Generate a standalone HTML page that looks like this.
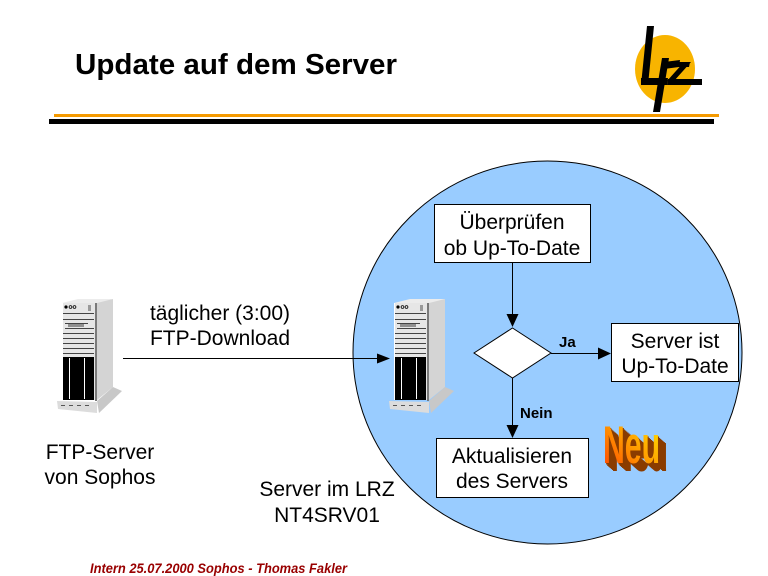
<!DOCTYPE html>
<html>
<head>
<meta charset="utf-8">
<style>
  html, body { margin: 0; padding: 0; background: #ffffff; }
  body { width: 768px; height: 576px; overflow: hidden; }
  svg { display: block; }
  .t { font-family: "Liberation Sans", Arial, sans-serif; font-size: 21px; fill: #000; }
</style>
</head>
<body>
<svg width="768" height="576" viewBox="0 0 768 576" xmlns="http://www.w3.org/2000/svg">
  <defs>
    <linearGradient id="neuGrad" x1="0" y1="1" x2="1" y2="0">
      <stop offset="0" stop-color="#ff3a00"/>
      <stop offset="0.5" stop-color="#ff9a00"/>
      <stop offset="1" stop-color="#ffee00"/>
    </linearGradient>
    <g id="server">
      <polygon points="429,302 445,299 445,387 429,400" fill="#d4d4d4"/>
      <polygon points="394,303 429,303 445,299 410,299" fill="#ececec"/>
      <rect x="394" y="303" width="33" height="97" fill="#e6e6e6"/>
      <line x1="394.5" y1="303" x2="394.5" y2="400" stroke="#ffffff" stroke-width="1"/>
      <rect x="427" y="303" width="2" height="98" fill="#7a7a7a"/>
      <circle cx="398" cy="307" r="1.6" fill="#000"/>
      <circle cx="402.5" cy="307" r="1.4" fill="none" stroke="#000" stroke-width="0.8"/>
      <circle cx="406.5" cy="307" r="1.4" fill="none" stroke="#000" stroke-width="0.8"/>
      <rect x="420" y="305" width="3" height="6" fill="#9a9a9a"/>
      <g stroke="#444" stroke-width="1">
        <line x1="395" y1="313.5" x2="426" y2="313.5"/>
        <line x1="395" y1="319.5" x2="426" y2="319.5"/>
        <line x1="397" y1="323.5" x2="420" y2="323.5"/>
        <line x1="397" y1="328.5" x2="426" y2="328.5"/>
        <line x1="395" y1="333.5" x2="426" y2="333.5"/>
        <line x1="395" y1="338.5" x2="426" y2="338.5"/>
        <line x1="395" y1="343.5" x2="426" y2="343.5"/>
        <line x1="395" y1="348.5" x2="426" y2="348.5"/>
        <line x1="395" y1="353.5" x2="426" y2="353.5"/>
      </g>
      <rect x="400" y="324" width="16" height="3" fill="#909090"/>
      <rect x="395" y="357" width="31" height="43" fill="#000"/>
      <rect x="401" y="358" width="1" height="41" fill="#ffffff"/>
      <rect x="416" y="358" width="1" height="41" fill="#ffffff"/>
      <polygon points="389,401 429,402 429,413 390,409" fill="#dcdcdc"/>
      <polygon points="429,401 445,387 454,391 431,413" fill="#c8c8c8"/>
      <g stroke="#555" stroke-width="1">
        <line x1="393" y1="405.5" x2="397" y2="405.5"/>
        <line x1="401" y1="405.5" x2="405" y2="405.5"/>
        <line x1="409" y1="405.5" x2="413" y2="405.5"/>
        <line x1="417" y1="405.5" x2="421" y2="405.5"/>
      </g>
    </g>
  </defs>

  <!-- Title -->
  <text x="75" y="74" font-family="Liberation Sans, Arial, sans-serif" font-weight="bold" font-size="28.5" fill="#000" textLength="322" lengthAdjust="spacingAndGlyphs">Update auf dem Server</text>

  <!-- Header lines -->
  <rect x="54" y="114" width="665" height="3" fill="#f59a00"/>
  <rect x="49" y="119" width="665" height="5" fill="#000"/>

  <!-- Logo -->
  <ellipse cx="665" cy="69" rx="30" ry="34" fill="#f8b400"/>
  <g fill="#000">
    <polygon points="647,26 654,26 648,85 641,85"/>
    <polygon points="641,78 668,78 667,85 641,85"/>
    <polygon points="662,58 669,58 660,112 653,112"/>
    <polygon points="664,62 680,60 679,67 664,69"/>
    <polygon points="675,62 690,62 689,67 675,67"/>
    <polygon points="684,62 691,62 674,81 667,81"/>
    <polygon points="668,79 702,79 702,85 667,85"/>
  </g>

  <!-- Big circle -->
  <ellipse cx="547.5" cy="352.5" rx="194.5" ry="191.5" fill="#99ccff" stroke="#000" stroke-width="1"/>

  <!-- Servers -->
  <use href="#server"/>
  <use href="#server" transform="translate(-332,0)"/>

  <!-- FTP download arrow -->
  <line x1="123" y1="358.5" x2="379" y2="358.5" stroke="#000" stroke-width="1"/>
  <polygon points="377,353.5 390,358.5 377,363.5" fill="#000"/>
  <text class="t" x="220" y="320" text-anchor="middle">täglicher (3:00)</text>
  <text class="t" x="220" y="345" text-anchor="middle">FTP-Download</text>

  <!-- Left labels -->
  <text class="t" x="100" y="459" text-anchor="middle">FTP-Server</text>
  <text class="t" x="100" y="484" text-anchor="middle">von Sophos</text>

  <text class="t" x="327" y="496" text-anchor="middle">Server im LRZ</text>
  <text class="t" x="327" y="522" text-anchor="middle">NT4SRV01</text>

  <!-- Box 1 -->
  <rect x="434.5" y="204.5" width="156" height="58" fill="#fff" stroke="#000" stroke-width="1"/>
  <text class="t" x="512" y="229" text-anchor="middle">Überprüfen</text>
  <text class="t" x="512" y="255" text-anchor="middle">ob Up-To-Date</text>

  <!-- Arrow down to diamond -->
  <line x1="512.5" y1="263" x2="512.5" y2="316" stroke="#000" stroke-width="1"/>
  <polygon points="506.5,314 518.5,314 512.5,327" fill="#000"/>

  <!-- Diamond -->
  <polygon points="512.5,328 551,353 512.5,378 474,353" fill="#fff" stroke="#000" stroke-width="1"/>

  <!-- Ja arrow -->
  <line x1="551" y1="353.5" x2="600" y2="353.5" stroke="#000" stroke-width="1"/>
  <polygon points="598,347.5 611,353.5 598,359.5" fill="#000"/>
  <text x="559" y="347" font-family="Liberation Sans, Arial, sans-serif" font-weight="bold" font-size="15" fill="#000">Ja</text>

  <!-- Box 2 -->
  <rect x="611.5" y="323.5" width="127" height="58" fill="#fff" stroke="#000" stroke-width="1"/>
  <text class="t" x="675" y="348" text-anchor="middle">Server ist</text>
  <text class="t" x="675" y="373" text-anchor="middle">Up-To-Date</text>

  <!-- Nein arrow -->
  <line x1="512.5" y1="378" x2="512.5" y2="427" stroke="#000" stroke-width="1"/>
  <polygon points="506.5,425 518.5,425 512.5,438" fill="#000"/>
  <text x="520" y="418" font-family="Liberation Sans, Arial, sans-serif" font-weight="bold" font-size="15" fill="#000">Nein</text>

  <!-- Box 3 -->
  <rect x="436.5" y="438.5" width="152" height="59" fill="#fff" stroke="#000" stroke-width="1"/>
  <text class="t" x="512" y="463" text-anchor="middle">Aktualisieren</text>
  <text class="t" x="512" y="488" text-anchor="middle">des Servers</text>

  <!-- Neu 3D text -->
  <g font-family="Liberation Sans, Arial, sans-serif" font-weight="bold" font-size="53">
    <g transform="translate(603,463) scale(0.57,1)" fill="#8a3c00">
      <text x="14" y="8">Neu</text>
      <text x="12" y="7">Neu</text>
      <text x="10" y="6">Neu</text>
      <text x="8" y="5">Neu</text>
      <text x="6" y="4">Neu</text>
      <text x="4" y="3">Neu</text>
      <text x="2" y="1.5">Neu</text>
    </g>
    <g transform="translate(603,463) scale(0.57,1)">
      <text x="0" y="0" fill="url(#neuGrad)">Neu</text>
    </g>
  </g>

  <!-- Footer -->
  <text x="90" y="573" font-family="Liberation Sans Narrow, Liberation Sans, Arial, sans-serif" font-weight="bold" font-style="italic" font-size="14" fill="#990000" textLength="257" lengthAdjust="spacingAndGlyphs">Intern 25.07.2000 Sophos - Thomas Fakler</text>
</svg>
</body>
</html>
